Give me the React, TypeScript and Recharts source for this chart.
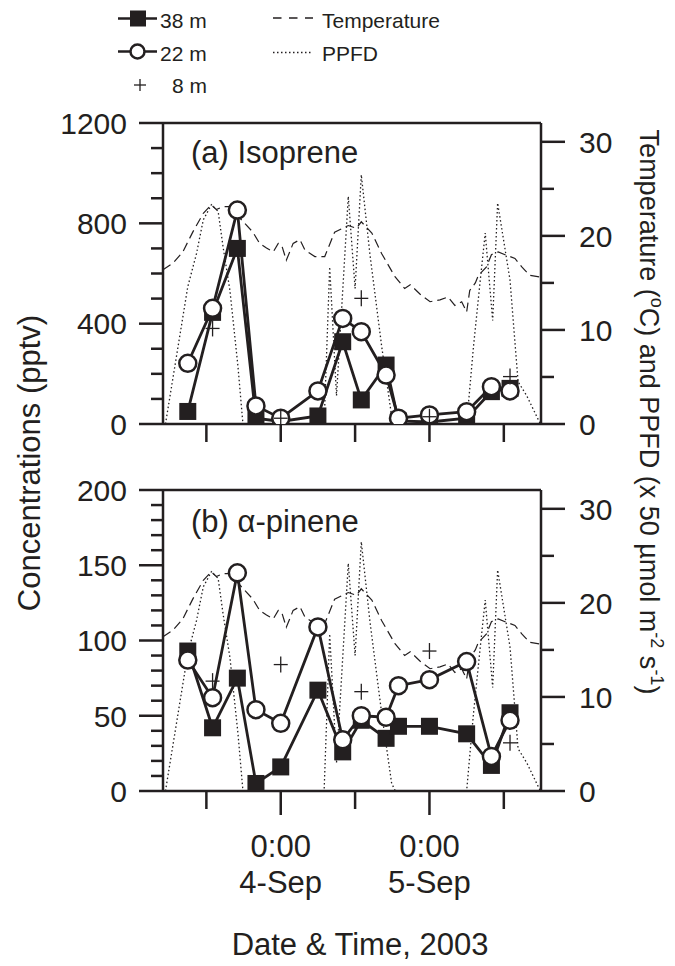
import React from 'react';
import { ComposedChart, Line, XAxis, YAxis, ReferenceLine } from 'recharts';

// sampling times, hours since 0:00 3-Sep
const sampleHours = [9, 13, 17, 20, 24, 30, 34, 37, 41, 43, 48, 54, 58, 61];
const sampleHours8m = [13, 24, 37, 48, 61];

const isoprene38m = [50, 445, 700, 23, 10, 32, 328, 96, 235, 12, 8, 23, 129, 142];
const isoprene22m = [242, 461, 853, 72, 23, 132, 421, 368, 195, 23, 36, 49, 149, 132];
const isoprene8m = [381, 23, 501, 29, 189];

const pinene38m = [93, 42, 75, 5, 16, 67, 26, 47, 35, 43, 43, 38, 17, 52];
const pinene22m = [87, 62, 145, 54, 45, 109, 34, 50, 49, 70, 74, 86, 23, 47];
const pinene8m = [73, 84, 66, 93, 32];

const tempHours = [5, 6.6, 8.2, 9.8, 11.5, 12.8, 13.6, 14.7, 15.8, 17.4, 19.5, 20.6, 21.7, 22.8, 23.6, 24.2, 24.9, 26, 27.1, 27.9, 29.5, 31.1, 32.7, 34.9, 36.2, 37, 38.7, 40.3, 42.4, 44, 44.9, 46.5, 48.1, 49.7, 51, 52.1, 53.2, 54, 54.5, 55.4, 55.9, 57.2, 58, 59.1, 60.2, 61.8, 62.9, 64.2, 66];
const tempValues = [16.4, 17.1, 18.3, 20.4, 22.4, 23.3, 22.8, 23.1, 23.1, 21.9, 20.4, 19.2, 18.7, 18.3, 19.2, 18.9, 17.4, 19.2, 19.6, 18.5, 17.8, 17.8, 20.4, 21.1, 20.8, 21.5, 20.3, 18.1, 15.7, 14.4, 14.8, 13.8, 13.0, 13.2, 13.5, 12.6, 13.0, 11.9, 14.2, 15.0, 15.8, 16.7, 18.0, 18.3, 18.0, 17.6, 16.7, 15.8, 15.6];

const ppfdHours = [5.4, 9, 10.4, 11.5, 12.8, 13.9, 14.7, 15.8, 17.1, 17.9, 31, 31.9, 33, 34.9, 36, 37, 38.4, 40.3, 41.9, 42.5, 54, 55.1, 56.2, 57, 58.2, 59, 61, 62.3, 63.7, 65.9];
const ppfdValues = [0, 14.6, 18.1, 21.7, 23.3, 22.6, 18.8, 14.2, 6.1, 0, 0, 16.7, 3, 24.2, 14.4, 26.5, 18, 8.2, 0.8, 0, 0, 8.2, 15.3, 20.3, 11, 23.5, 15.3, 4.5, 3, 0];

const xTicks = [12, 24, 36, 48, 60];
const xTickLabels: Record<number, string[]> = { 24: ['0:00', '4-Sep'], 48: ['0:00', '5-Sep'] };
const rightTicks = [0, 5, 10, 15, 20, 25, 30];

const INK = '#231f20';
const FONT = '"Liberation Sans", Arial, Helvetica, sans-serif';

const toPoints = (hs: number[], vs: number[]) => hs.map((h, i) => ({ h, v: vs[i] }));
const tempData = toPoints(tempHours, tempValues);
const ppfdData = toPoints(ppfdHours, ppfdValues);

const makeLeftTick = (major: number) => (props: any) => {
  const { x, y, payload } = props;
  const isMajor = payload.value % major === 0;
  return (
    <g>
      <line x1={x - (isMajor ? 24 : 12)} x2={x} y1={y} y2={y} stroke={INK} strokeWidth={2.5} />
      {isMajor && (
        <text x={x - 36} y={y} dy="0.36em" textAnchor="end" fontSize={30} fill={INK} fontFamily={FONT}>
          {payload.value}
        </text>
      )}
    </g>
  );
};

const RightTick = (props: any) => {
  const { x, y, payload } = props;
  const isMajor = payload.value % 10 === 0;
  return (
    <g>
      <line x1={x} x2={x + (isMajor ? 24 : 13)} y1={y} y2={y} stroke={INK} strokeWidth={2.5} />
      {isMajor && (
        <text x={x + 38} y={y} dy="0.36em" textAnchor="start" fontSize={30} fill={INK} fontFamily={FONT}>
          {payload.value}
        </text>
      )}
    </g>
  );
};

const makeBottomTick = (withLabels: boolean) => (props: any) => {
  const { x, y, payload } = props;
  const lbl = xTickLabels[payload.value];
  const len = withLabels && lbl ? 24 : 18;
  return (
    <g>
      <line x1={x} x2={x} y1={y} y2={y + len} stroke={INK} strokeWidth={2.5} />
      {withLabels && lbl && (
        <text textAnchor="middle" fontSize={31} fill={INK} fontFamily={FONT}>
          <tspan x={x} y={y + 66}>{lbl[0]}</tspan>
          <tspan x={x} y={y + 102}>{lbl[1]}</tspan>
        </text>
      )}
    </g>
  );
};

const SquareDot = (props: any) => {
  const { cx, cy, index } = props;
  if (cx == null || cy == null) return <g key={index} />;
  return <rect key={index} x={cx - 8.5} y={cy - 8.5} width={17} height={17} fill={INK} />;
};

const PlusDot = (props: any) => {
  const { cx, cy, index } = props;
  if (cx == null || cy == null) return <g key={index} />;
  return (
    <g key={index}>
      <line x1={cx - 7} x2={cx + 7} y1={cy} y2={cy} stroke={INK} strokeWidth={1.3} />
      <line x1={cx} x2={cx} y1={cy - 8} y2={cy + 8} stroke={INK} strokeWidth={1.3} />
    </g>
  );
};

interface PanelProps {
  top: number;
  height: number;
  marginTop: number;
  axisHeight: number;
  leftMax: number;
  leftStep: number;
  leftMajor: number;
  c38: number[];
  c22: number[];
  c8: number[];
  withLabels: boolean;
}

const Panel: React.FC<PanelProps> = ({ top, height, marginTop, axisHeight, leftMax, leftStep, leftMajor, c38, c22, c8, withLabels }) => {
  const leftTicks: number[] = [];
  for (let v = 0; v <= leftMax; v += leftStep) leftTicks.push(v);
  return (
    <div style={{ position: 'absolute', left: 0, top }}>
      <ComposedChart width={675} height={height} margin={{ top: marginTop, right: 0, bottom: 0, left: 0 }}>
        <XAxis
          dataKey="h"
          type="number"
          domain={[5, 66]}
          ticks={xTicks}
          interval={0}
          allowDataOverflow
          height={axisHeight}
          tickSize={0}
          tickMargin={0}
          tick={makeBottomTick(withLabels)}
          axisLine={{ stroke: INK, strokeWidth: 2.5 }}
        />
        <YAxis
          yAxisId="left"
          type="number"
          domain={[0, leftMax]}
          ticks={leftTicks}
          interval={0}
          allowDataOverflow
          width={163}
          tickSize={0}
          tickMargin={0}
          tick={makeLeftTick(leftMajor)}
          axisLine={{ stroke: INK, strokeWidth: 2.5 }}
        />
        <YAxis
          yAxisId="right"
          orientation="right"
          type="number"
          domain={[0, 32]}
          ticks={rightTicks}
          interval={0}
          allowDataOverflow
          width={134}
          tickSize={0}
          tickMargin={0}
          tick={RightTick}
          axisLine={{ stroke: INK, strokeWidth: 2.5 }}
        />
        <ReferenceLine yAxisId="left" y={leftMax} stroke={INK} strokeWidth={2.5} />
        <Line yAxisId="right" data={ppfdData} dataKey="v" stroke={INK} strokeWidth={1.3} strokeDasharray="1.5 2.5" dot={false} activeDot={false} isAnimationActive={false} />
        <Line yAxisId="right" data={tempData} dataKey="v" stroke={INK} strokeWidth={1.2} strokeDasharray="9 5" dot={false} activeDot={false} isAnimationActive={false} />
        <Line yAxisId="left" data={toPoints(sampleHours, c38)} dataKey="v" stroke={INK} strokeWidth={2.8} dot={SquareDot} activeDot={false} isAnimationActive={false} />
        <Line yAxisId="left" data={toPoints(sampleHours, c22)} dataKey="v" stroke={INK} strokeWidth={2.8} dot={{ r: 8.5, fill: '#fff', stroke: INK, strokeWidth: 2.5 }} activeDot={false} isAnimationActive={false} />
        <Line yAxisId="left" data={toPoints(sampleHours8m, c8)} dataKey="v" stroke="none" dot={PlusDot} activeDot={false} isAnimationActive={false} />
      </ComposedChart>
    </div>
  );
};

export default function App() {
  return (
    <div style={{ position: 'absolute', left: 0, top: 0, width: 675, height: 966, background: '#fff', fontFamily: FONT }}>
      <Panel top={0} height={460} marginTop={123} axisHeight={36} leftMax={1200} leftStep={100} leftMajor={400}
        c38={isoprene38m} c22={isoprene22m} c8={isoprene8m} withLabels={false} />
      <Panel top={460} height={506} marginTop={30} axisHeight={175} leftMax={200} leftStep={10} leftMajor={50}
        c38={pinene38m} c22={pinene22m} c8={pinene8m} withLabels />
      <svg width={675} height={966} style={{ position: 'absolute', left: 0, top: 0, pointerEvents: 'none' }} fontFamily={FONT} fill={INK}>
        {/* legend */}
        <line x1={118} x2={157} y1={18.5} y2={18.5} stroke={INK} strokeWidth={2.5} />
        <rect x={130} y={10.5} width={16} height={16} fill={INK} />
        <text x={160} y={28} fontSize={21}>38 m</text>
        <line x1={118} x2={157} y1={51.5} y2={51.5} stroke={INK} strokeWidth={2.5} />
        <circle cx={137.5} cy={51.5} r={7} fill="#fff" stroke={INK} strokeWidth={2.5} />
        <text x={160} y={61} fontSize={21}>22 m</text>
        <line x1={134} x2={146} y1={85} y2={85} stroke={INK} strokeWidth={1.3} />
        <line x1={140} x2={140} y1={79} y2={91} stroke={INK} strokeWidth={1.3} />
        <text x={172} y={93} fontSize={21}>8 m</text>
        <line x1={273} x2={313} y1={18} y2={18} stroke={INK} strokeWidth={1.3} strokeDasharray="8.5 7.5" />
        <text x={322} y={28} fontSize={21}>Temperature</text>
        <line x1={273} x2={311} y1={52.5} y2={52.5} stroke={INK} strokeWidth={1.3} strokeDasharray="1.5 2.5" />
        <text x={322} y={61} fontSize={21}>PPFD</text>

        {/* panel titles */}
        <text x={191} y={163} fontSize={31}>(a) Isoprene</text>
        <text x={191} y={532} fontSize={31}>(b) α-pinene</text>

        {/* axis titles */}
        <text x={40} y={463} fontSize={31} textAnchor="middle" transform="rotate(-90 40 463)">Concentrations (pptv)</text>
        <text x={640} y={412} fontSize={27} textAnchor="middle" transform="rotate(90 640 412)">
          Temperature (<tspan dy={-11} fontSize={18}>o</tspan><tspan dy={11}>C) and PPFD (x 50 µmol m</tspan>
          <tspan dy={-11} fontSize={18}>-2</tspan><tspan dy={11}> s</tspan>
          <tspan dy={-11} fontSize={18}>-1</tspan><tspan dy={11}>)</tspan>
        </text>
        <text x={360} y={955} fontSize={31} textAnchor="middle">Date &amp; Time, 2003</text>
      </svg>
    </div>
  );
}
